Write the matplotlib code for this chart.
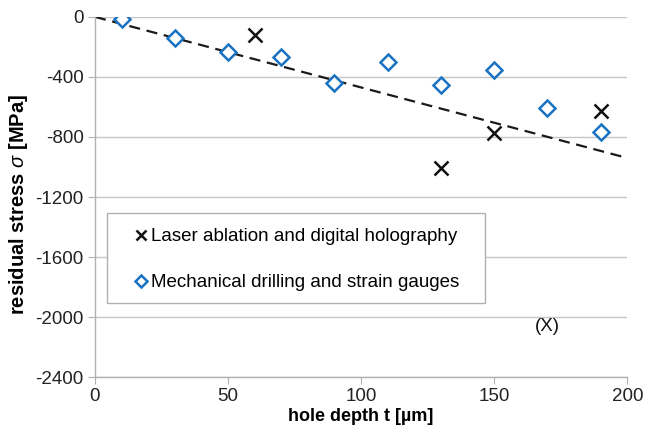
import matplotlib.pyplot as plt
from matplotlib.patches import Rectangle

plt.rcParams["font.family"] = ["Liberation Sans", "DejaVu Sans"]
plt.rcParams["mathtext.fontset"] = "custom"
plt.rcParams["mathtext.it"] = "Liberation Sans:italic"
plt.rcParams["axes.unicode_minus"] = False

# laser ablation + digital holography
laser_depth = [60, 130, 150, 190]
laser_stress = [-120, -1005, -775, -625]
# outlier shown in brackets
outlier_depth = 170
outlier_stress = -2060

# mechanical drilling + strain gauges
drill_depth = [10, 30, 50, 70, 90, 110, 130, 150, 170, 190]
drill_stress = [-15, -140, -235, -270, -440, -300, -453, -353, -605, -770]

# linear trend through the origin
trend_depth = [0, 200]
trend_slope = -4.7

xticks = [0, 50, 100, 150, 200]
yticks = [0, -400, -800, -1200, -1600, -2000, -2400]

grey = "#b0b0b0"
blue = "#1a72c2"
fs = 13.5

fig = plt.figure(figsize=(6.46, 4.33), dpi=100)
ax = fig.add_axes([0.147, 0.129, 0.824, 0.832])

for y in yticks:
    ax.axhline(y, color="#c6c6c6", lw=1.0, zorder=0)

ax.plot(trend_depth, [trend_slope * t for t in trend_depth], ls=(0, (5, 3)),
        color="#1a1a1a", lw=1.6, zorder=2)
ax.plot(laser_depth, laser_stress, ls="none", marker="x", ms=10, mew=1.8,
        color="#111111", label="Laser ablation and digital holography", zorder=3)
ax.plot(drill_depth, drill_stress, ls="none", marker="D", ms=8, mew=1.8,
        mfc="white", mec=blue, label="Mechanical drilling and strain gauges", zorder=3)
ax.text(outlier_depth, outlier_stress, "(X)", ha="center", va="center",
        fontsize=fs, color="#111111")

ax.set_xlim(0, 200)
ax.set_ylim(-2400, 0)
ax.set_xticks(xticks)
ax.set_yticks(yticks)
ax.tick_params(axis="both", direction="out", length=5, color=grey,
               labelsize=fs, labelcolor="#222222", pad=3)
for side in ["top", "right"]:
    ax.spines[side].set_visible(False)
for side in ["left", "bottom"]:
    ax.spines[side].set_color(grey)
    ax.spines[side].set_linewidth(1.0)

ax.set_xlabel("hole depth t [µm]", fontsize=13, fontweight="bold", labelpad=2)
ax.set_ylabel(r"residual stress $\sigma$ [MPa]", fontsize=14.5,
              fontweight="bold")
ax.yaxis.set_label_coords(-0.122, 0.478)

# legend frame drawn separately so its size can be set exactly
ax.add_patch(Rectangle((0.0226, 0.206), 0.710, 0.25, transform=ax.transAxes,
                       fc="white", ec=grey, lw=1.0, zorder=4))
leg = ax.legend(loc="center left", bbox_to_anchor=(0.077, 0.326),
                frameon=False, fontsize=fs, handlelength=0.55,
                handletextpad=0.25, labelspacing=1.55, borderpad=0.0,
                borderaxespad=0.0, markerscale=0.75)
leg.set_zorder(5)

fig.savefig("out.png", dpi=100)
